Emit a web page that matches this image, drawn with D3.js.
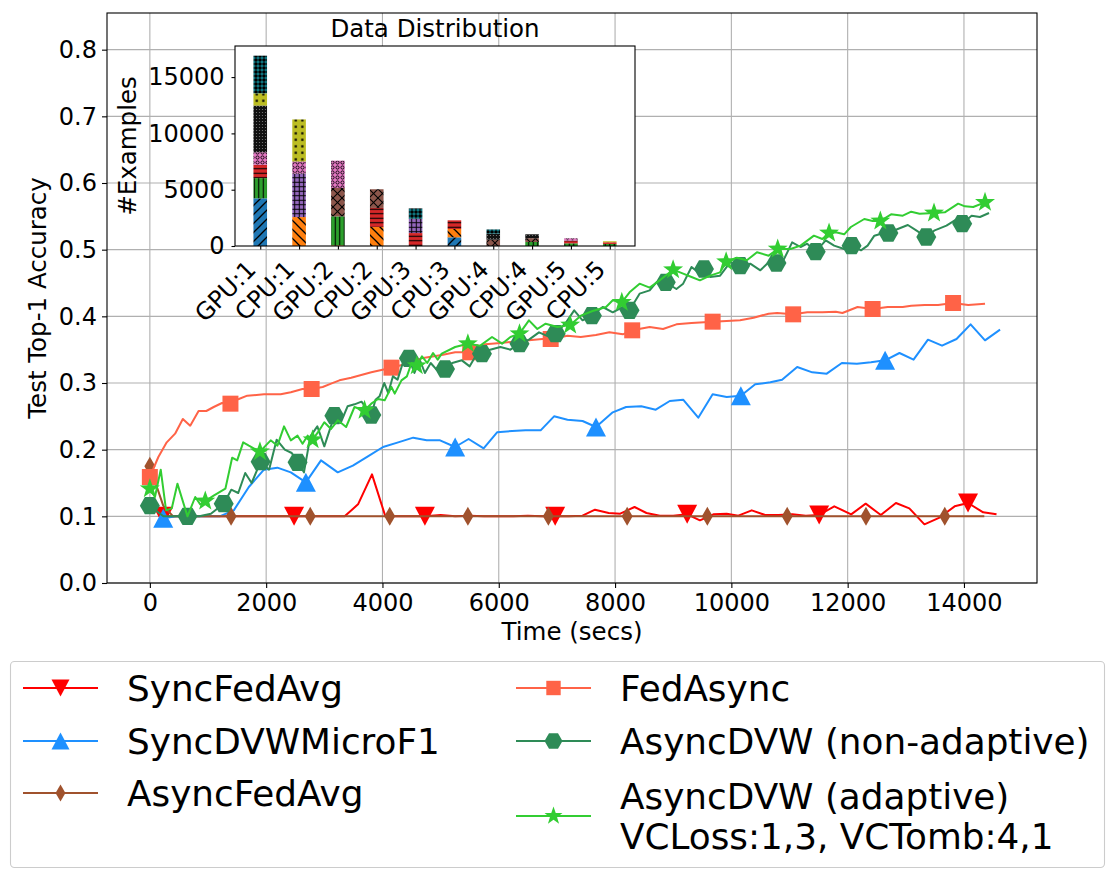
<!DOCTYPE html>
<html>
<head>
<meta charset="utf-8">
<script src="https://cdn.jsdelivr.net/npm/d3@7"></script>
<style>
  body { margin: 0; background: #fff; }
  text { font-family: "DejaVu Sans", sans-serif; fill: #000; }
</style>
</head>
<body>
<div id="chart"></div>
<script>
// main plot ticks
var xTickVals = [0, 2000, 4000, 6000, 8000, 10000, 12000, 14000];
var yTickVals = [0, 0.1, 0.2, 0.3, 0.4, 0.5, 0.6, 0.7, 0.8];

var seriesNames = ['SyncFedAvg', 'SyncDVWMicroF1', 'AsyncFedAvg', 'FedAsync',
	'AsyncDVW (non-adaptive)', 'AsyncDVW (adaptive)\nVCLoss:1,3, VCTomb:4,1'];

// SyncFedAvg
var syncFedAvgT = [100,230,450,700,1000,1300,1600,1900,2200,2480,2800,3100,3350,3580,3820,4050,4300,4500,4730,5000,5250,5500,5750,6000,6250,6500,6750,6970,7200,7440,7655,7890,8090,8335,8540,8770,9000,9240,9460,9690,9920,10120,10350,10580,10810,11050,11280,11510,11770,12060,12310,12570,12830,13060,13320,13580,13840,14070,14330,14560];
var syncFedAvgV = [0.11,0.1,0.1,0.1,0.1,0.1,0.1,0.1,0.1,0.1,0.1,0.1,0.1,0.118,0.163,0.1,0.1,0.1,0.1,0.102,0.1,0.101,0.1,0.1,0.1,0.101,0.1,0.1,0.1,0.101,0.11,0.105,0.104,0.114,0.105,0.101,0.101,0.103,0.094,0.103,0.104,0.101,0.109,0.102,0.102,0.103,0.101,0.102,0.115,0.103,0.119,0.102,0.12,0.112,0.088,0.098,0.115,0.12,0.106,0.103];
var syncFedAvgMarks = [230,2480,4730,6970,9240,11510,14070];

// SyncDVWMicroF1
var syncDvwT = [230,450,700,950,1200,1443,1702,1962,2193,2424,2683,2943,3231,3491,3750,4010,4270,4529,4760,4990,5250,5481,5740,5971,6230,6460,6720,6951,7182,7441,7672,7960,8190,8450,8700,8941,9171,9431,9678,9920,10163,10410,10670,10872,11132,11391,11640,11900,12159,12401,12644,12891,13133,13381,13623,13872,14114,14362,14621];
var syncDvwV = [0.097,0.1,0.1,0.1,0.1,0.109,0.144,0.170,0.173,0.166,0.151,0.184,0.166,0.176,0.19,0.204,0.211,0.218,0.214,0.214,0.204,0.216,0.202,0.226,0.228,0.229,0.229,0.25,0.245,0.243,0.234,0.256,0.264,0.265,0.26,0.273,0.275,0.248,0.283,0.279,0.281,0.298,0.301,0.305,0.324,0.316,0.314,0.33,0.329,0.331,0.334,0.345,0.335,0.365,0.356,0.366,0.388,0.364,0.38];
var syncDvwMarks = [230,2683,5250,7672,10163,12644];

// AsyncFedAvg
var asyncFedAvgT = [0,230,400,1397,2758,4125,5469,6853,8208,9587,10960,12315,13670,14350];
var asyncFedAvgV = [0.175,0.116,0.1,0.1,0.1,0.1,0.1,0.1,0.1,0.1,0.1,0.1,0.1,0.1];
var asyncFedAvgMarks = [0,1397,2758,4125,5469,6853,8208,9587,10960,12315,13670];

// FedAsync
var fedAsyncT = [0,146,290,434,567,694,838,971,1098,1241,1386,1530,1675,1963,2250,2424,2625,2782,2972,3116,3260,3462,3808,4155,4414,4673,5019,5250,5509,5768,6030,6260,6520,6750,6893,7182,7410,7670,7903,8133,8295,8595,8825,9055,9315,9678,9920,10150,10382,10640,10786,11063,11305,11565,11796,11910,12170,12429,12688,12947,13093,13324,13555,13813,14073,14362];
var fedAsyncV = [0.159,0.189,0.211,0.224,0.246,0.236,0.258,0.258,0.264,0.270,0.269,0.276,0.281,0.283,0.283,0.286,0.291,0.291,0.294,0.299,0.304,0.308,0.316,0.323,0.329,0.337,0.342,0.346,0.346,0.358,0.360,0.362,0.364,0.366,0.366,0.371,0.369,0.372,0.376,0.373,0.379,0.384,0.381,0.388,0.39,0.392,0.393,0.394,0.398,0.404,0.405,0.403,0.406,0.406,0.407,0.405,0.414,0.411,0.414,0.414,0.416,0.417,0.417,0.42,0.417,0.419];
var fedAsyncMarks = [0,1386,2782,4155,5509,6893,8295,9678,11063,12429,13813];

// AsyncDVW (non-adaptive)
var dvwFixedT = [0,117,232,400,647,850,1050,1270,1400,1520,1640,1750,1905,2050,2180,2320,2440,2540,2650,2760,2880,3000,3173,3280,3400,3520,3640,3808,3880,3950,4030,4100,4180,4260,4350,4455,4550,4640,4730,4830,4930,5019,5076,5200,5365,5500,5600,5711,5850,6028,6200,6357,6520,6692,6850,6979,7150,7297,7441,7602,7787,7960,8133,8249,8422,8595,8710,8872,9055,9171,9315,9460,9529,9633,9806,9979,10152,10325,10498,10642,10775,10901,11045,11190,11305,11450,11623,11767,11940,12067,12229,12343,12459,12574,12700,12862,13035,13179,13352,13497,13699,13843,13969,14131,14275,14431];
var dvwFixedV = [0.116,0.108,0.1,0.1,0.1,0.1,0.104,0.119,0.14,0.135,0.165,0.15,0.182,0.17,0.215,0.2,0.195,0.181,0.166,0.22,0.235,0.205,0.251,0.24,0.265,0.268,0.272,0.252,0.275,0.28,0.3,0.285,0.31,0.305,0.33,0.337,0.315,0.335,0.315,0.33,0.32,0.316,0.321,0.33,0.334,0.325,0.34,0.344,0.35,0.354,0.35,0.359,0.365,0.376,0.37,0.374,0.39,0.409,0.394,0.401,0.414,0.406,0.414,0.409,0.434,0.439,0.451,0.451,0.441,0.449,0.474,0.464,0.471,0.459,0.461,0.481,0.476,0.479,0.469,0.481,0.48,0.485,0.511,0.504,0.509,0.497,0.514,0.506,0.501,0.506,0.499,0.506,0.521,0.524,0.525,0.531,0.537,0.529,0.519,0.529,0.536,0.544,0.539,0.551,0.549,0.555];
var dvwFixedMarks = [0,647,1270,1905,2540,3173,3808,4455,5076,5711,6357,6979,7602,8249,8872,9529,10152,10775,11450,12067,12700,13352,13969];

// AsyncDVW (adaptive)
var dvwAdaptT = [0,88,187,279,377,474,647,780,867,953,1097,1299,1415,1502,1605,1702,1893,2078,2194,2308,2424,2540,2626,2713,2799,2914,3000,3116,3232,3375,3519,3692,3808,3924,4038,4154,4211,4327,4420,4500,4590,4680,4770,4870,4950,5019,5250,5469,5682,5884,6057,6201,6357,6519,6663,6806,7009,7228,7412,7614,7845,7960,8116,8249,8422,8595,8768,8998,9171,9315,9460,9633,9806,9910,10093,10266,10440,10642,10797,11017,11190,11420,11564,11680,11796,11940,12055,12286,12429,12562,12747,12948,13093,13237,13485,13670,13900,14016,14159,14362];
var dvwAdaptV = [0.1415,0.129,0.17,0.109,0.112,0.149,0.1,0.129,0.118,0.123,0.131,0.1415,0.188,0.184,0.211,0.206,0.197,0.214,0.206,0.235,0.214,0.221,0.209,0.221,0.215,0.229,0.241,0.231,0.244,0.234,0.264,0.259,0.269,0.276,0.274,0.294,0.284,0.304,0.31,0.33,0.326,0.34,0.33,0.345,0.335,0.344,0.354,0.359,0.356,0.369,0.359,0.369,0.374,0.394,0.381,0.389,0.384,0.387,0.401,0.408,0.414,0.424,0.421,0.436,0.449,0.443,0.454,0.47,0.464,0.459,0.454,0.461,0.466,0.482,0.488,0.484,0.496,0.491,0.501,0.501,0.506,0.521,0.516,0.525,0.526,0.523,0.534,0.546,0.543,0.543,0.553,0.551,0.557,0.554,0.555,0.556,0.569,0.565,0.564,0.571];
var dvwAdaptMarks = [0,953,1893,2799,3692,4590,5469,6357,7228,8116,8998,9910,10797,11680,12562,13485,14362];

// inset: examples per class on each device
var devices = ['GPU:1','CPU:1','GPU:2','CPU:2','GPU:3','CPU:3','GPU:4','CPU:4','GPU:5','CPU:5'];
var classCounts = [
	[4230,0,0,0,0,770,0,0,0,0],
	[0,2570,60,1690,0,740,0,0,0,0],
	[1800,0,2570,0,0,0,0,355,240,180],
	[1180,0,0,1690,1150,770,0,0,240,150],
	[0,3850,0,0,1270,0,0,0,0,0],
	[0,0,2520,1660,0,0,560,340,0,0],
	[1120,1090,2430,0,0,0,0,0,200,0],
	[4140,0,0,0,0,0,530,345,0,0],
	[1090,3730,0,0,0,0,0,0,0,90],
	[3340,0,0,0,920,0,380,0,0,0]
];
var insetTickVals = [0, 5000, 10000, 15000];

var svg = d3.select('#chart').append('svg')
	.attr('width', 1114)
	.attr('height', 885);

var x = d3.scaleLinear().domain([-737, 15256]).range([107, 1037]);
var y = d3.scaleLinear().domain([0, 0.855]).range([583, 13]);

// grid
svg.append('g').selectAll('line').data(xTickVals).enter().append('line')
	.attr('x1', d => x(d)).attr('x2', d => x(d))
	.attr('y1', 13).attr('y2', 583)
	.attr('stroke', '#b0b0b0').attr('stroke-width', 1.1);
svg.append('g').selectAll('line').data(yTickVals).enter().append('line')
	.attr('x1', 107).attr('x2', 1037)
	.attr('y1', d => y(d)).attr('y2', d => y(d))
	.attr('stroke', '#b0b0b0').attr('stroke-width', 1.1);

function markerPath(kind, k) {
	k = k || 1;
	var p;
	if (kind == 'v') p = [[-10,-9.5],[10,-9.5],[0,9.5]];
	else if (kind == '^') p = [[0,-9.5],[10,9.5],[-10,9.5]];
	else if (kind == 'd') p = [[0,-9.5],[5.5,0],[0,9.5],[-5.5,0]];
	else if (kind == 's') p = [[-8,-8],[8,-8],[8,8],[-8,8]];
	else if (kind == 'H') p = d3.range(6).map(i => [10 * Math.cos(i * Math.PI / 3), 10 * Math.sin(i * Math.PI / 3)]);
	else p = d3.range(10).map(function(i) {
		var r = i % 2 ? 4.2 : 10.5;
		var a = -Math.PI / 2 + i * Math.PI / 5;
		return [r * Math.cos(a), r * Math.sin(a)];
	});
	return 'M' + p.map(q => (q[0] * k).toFixed(2) + ',' + (q[1] * k).toFixed(2)).join('L') + 'Z';
}

var series = [
	{t: syncFedAvgT, v: syncFedAvgV, marks: syncFedAvgMarks, color: '#ff0000', marker: 'v'},
	{t: syncDvwT, v: syncDvwV, marks: syncDvwMarks, color: '#1e90ff', marker: '^'},
	{t: asyncFedAvgT, v: asyncFedAvgV, marks: asyncFedAvgMarks, color: '#a0522d', marker: 'd'},
	{t: fedAsyncT, v: fedAsyncV, marks: fedAsyncMarks, color: '#ff6347', marker: 's'},
	{t: dvwFixedT, v: dvwFixedV, marks: dvwFixedMarks, color: '#2e8b57', marker: 'H'},
	{t: dvwAdaptT, v: dvwAdaptV, marks: dvwAdaptMarks, color: '#32cd32', marker: '*'}
];

var line = d3.line().x(d => x(d[0])).y(d => y(d[1]));

series.forEach(function(s) {
	var pts = s.t.map((tt, i) => [tt, s.v[i]]);
	var g = svg.append('g');
	g.append('path')
		.attr('d', line(pts))
		.attr('fill', 'none')
		.attr('stroke', s.color)
		.attr('stroke-width', 2)
		.attr('stroke-linejoin', 'round');
	g.selectAll('path.mk').data(pts.filter(d => s.marks.indexOf(d[0]) >= 0)).enter()
		.append('path').attr('class', 'mk')
		.attr('d', markerPath(s.marker))
		.attr('transform', d => 'translate(' + x(d[0]) + ',' + y(d[1]) + ')')
		.attr('fill', s.color);
});

// axes
var xAxis = svg.append('g').attr('transform', 'translate(0,583)')
	.call(d3.axisBottom(x).tickValues(xTickVals).tickSize(5).tickSizeOuter(0).tickPadding(6).tickFormat(d3.format('d')));
var yAxis = svg.append('g').attr('transform', 'translate(107,0)')
	.call(d3.axisLeft(y).tickValues(yTickVals).tickSize(5).tickSizeOuter(0).tickPadding(5).tickFormat(d3.format('.1f')));
[xAxis, yAxis].forEach(function(a) {
	a.select('.domain').remove();
	a.selectAll('line').attr('stroke', '#000').attr('stroke-width', 1.1);
	a.selectAll('text').attr('font-size', 24).attr('font-family', 'DejaVu Sans').attr('fill', '#000');
});
svg.append('rect')
	.attr('x', 107).attr('y', 13).attr('width', 930).attr('height', 570)
	.attr('fill', 'none').attr('stroke', '#000').attr('stroke-width', 1.1);

svg.append('text')
	.attr('x', 572).attr('y', 640)
	.attr('text-anchor', 'middle').attr('font-size', 24.5)
	.text('Time (secs)');
svg.append('text')
	.attr('transform', 'translate(46,298) rotate(-90)')
	.attr('text-anchor', 'middle').attr('font-size', 24.5)
	.text('Test Top-1 Accuracy');

// ---- inset ----
var classColors = ['#1f77b4','#ff7f0e','#2ca02c','#d62728','#9467bd','#8c564b','#e377c2','#7f7f7f','#bcbd22','#17becf'];
var defs = svg.append('defs');

function hatch(i, w, h, draw) {
	var p = defs.append('pattern').attr('id', 'h' + i)
		.attr('patternUnits', 'userSpaceOnUse')
		.attr('width', w).attr('height', h);
	p.append('rect').attr('width', w).attr('height', h).attr('fill', classColors[i]);
	draw(p);
}
function ln(p, x1, y1, x2, y2, sw) {
	p.append('line').attr('x1', x1).attr('y1', y1).attr('x2', x2).attr('y2', y2)
		.attr('stroke', '#000').attr('stroke-width', sw || 1);
}
hatch(0, 9, 9, function(p) { ln(p, 0, 9, 9, 0, 1.3); ln(p, -1, 1, 1, -1, 1.3); ln(p, 8, 10, 10, 8, 1.3); });
hatch(1, 9, 9, function(p) { ln(p, 0, 0, 9, 9, 1.3); ln(p, -1, 8, 1, 10, 1.3); ln(p, 8, -1, 10, 1, 1.3); });
hatch(2, 4.5, 4.5, function(p) { ln(p, 2.25, 0, 2.25, 4.5, 1.1); });
hatch(3, 4.5, 4.5, function(p) { ln(p, 0, 2.25, 4.5, 2.25, 1.1); });
hatch(4, 4.5, 4.5, function(p) { ln(p, 2.25, 0, 2.25, 4.5, 1); ln(p, 0, 2.25, 4.5, 2.25, 1); });
hatch(5, 9, 9, function(p) { ln(p, 0, 9, 9, 0, 1.1); ln(p, 0, 0, 9, 9, 1.1); });
hatch(6, 5, 5, function(p) {
	p.append('circle').attr('cx', 2.5).attr('cy', 2.5).attr('r', 1.6)
		.attr('fill', 'none').attr('stroke', '#000').attr('stroke-width', 0.9);
});
hatch(7, 3, 3, function(p) {
	p.append('rect').attr('width', 3).attr('height', 3).attr('fill', '#111');
	p.append('circle').attr('cx', 1.5).attr('cy', 1.5).attr('r', 0.6).attr('fill', '#7f7f7f');
});
hatch(8, 6.5, 6.5, function(p) {
	p.append('rect').attr('x', 2.2).attr('y', 2.2).attr('width', 2.2).attr('height', 2.2).attr('fill', '#000');
});
hatch(9, 4, 4, function(p) {
	p.append('rect').attr('width', 4).attr('height', 4).attr('fill', '#000');
	p.append('circle').attr('cx', 2).attr('cy', 2).attr('r', 1.1)
		.attr('fill', 'none').attr('stroke', classColors[9]).attr('stroke-width', 0.8);
});

var xi = d3.scaleLinear().domain([-0.65, 9.65]).range([235, 635]);
var yi = d3.scaleLinear().domain([0, 17760]).range([246, 46]);
var barW = xi(0.35) - xi(0);

var inset = svg.append('g');
inset.append('rect')
	.attr('x', 235).attr('y', 46).attr('width', 400).attr('height', 200)
	.attr('fill', '#fff');

var table = devices.map(function(d, j) {
	var row = {};
	classCounts.forEach((c, i) => row[i] = c[j]);
	return row;
});
var stacked = d3.stack().keys(d3.range(10))(table);

stacked.forEach(function(layer, i) {
	inset.append('g').selectAll('rect')
		.data(layer.map((d, j) => ({j: j, y0: d[0], y1: d[1]})).filter(d => d.y1 > d.y0))
		.enter().append('rect')
		.attr('x', d => xi(d.j) - barW / 2)
		.attr('width', barW)
		.attr('y', d => yi(d.y1))
		.attr('height', d => yi(d.y0) - yi(d.y1))
		.attr('fill', 'url(#h' + i + ')');
});

var yiAxis = inset.append('g').attr('transform', 'translate(235,0)')
	.call(d3.axisLeft(yi).tickValues(insetTickVals).tickSize(3.5).tickSizeOuter(0).tickPadding(7).tickFormat(d3.format('d')));
var xiAxis = inset.append('g').attr('transform', 'translate(0,246)')
	.call(d3.axisBottom(xi).tickValues(d3.range(devices.length)).tickSize(3.5).tickSizeOuter(0).tickFormat(''));
[yiAxis, xiAxis].forEach(function(a) {
	a.select('.domain').remove();
	a.selectAll('line').attr('stroke', '#000').attr('stroke-width', 1.1);
	a.selectAll('text').attr('font-size', 24).attr('font-family', 'DejaVu Sans').attr('fill', '#000');
});
inset.append('g').selectAll('text').data(devices).enter().append('text')
	.attr('transform', (d, j) => 'translate(' + (xi(j) - 3) + ',271) rotate(-45)')
	.attr('text-anchor', 'end')
	.attr('font-size', 24)
	.text(d => d);
inset.append('rect')
	.attr('x', 235).attr('y', 46).attr('width', 400).attr('height', 200)
	.attr('fill', 'none').attr('stroke', '#000').attr('stroke-width', 1.1);
inset.append('text')
	.attr('x', 435).attr('y', 37)
	.attr('text-anchor', 'middle').attr('font-size', 24.5)
	.text('Data Distribution');
inset.append('text')
	.attr('transform', 'translate(136,146) rotate(-90)')
	.attr('text-anchor', 'middle').attr('font-size', 24.5)
	.text('#Examples');

// ---- legend ----
var legend = svg.append('g');
legend.append('rect')
	.attr('x', 10.5).attr('y', 661.5).attr('width', 1094).attr('height', 206).attr('rx', 4)
	.attr('fill', '#fff').attr('stroke', '#cccccc').attr('stroke-width', 1.1);

var legendPos = [[23, 688], [23, 741], [23, 793], [516, 688], [516, 741], [516, 816]];

series.forEach(function(s, i) {
	var px = legendPos[i][0], py = legendPos[i][1];
	legend.append('line')
		.attr('x1', px).attr('x2', px + 75).attr('y1', py).attr('y2', py)
		.attr('stroke', s.color).attr('stroke-width', 2);
	legend.append('path')
		.attr('d', markerPath(s.marker, 0.9))
		.attr('transform', 'translate(' + (px + 37.5) + ',' + py + ')')
		.attr('fill', s.color);
	var lines = seriesNames[i].split('\n');
	var t = legend.append('text')
		.attr('x', px + 104).attr('y', py)
		.attr('font-size', 35.8)
		.attr('dominant-baseline', 'central');
	lines.forEach(function(l, k) {
		t.append('tspan')
			.attr('x', px + 104)
			.attr('y', py + (k - (lines.length - 1) / 2) * 40)
			.text(l);
	});
});
</script>
</body>
</html>
